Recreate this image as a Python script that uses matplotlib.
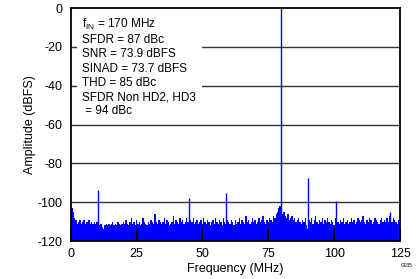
import numpy as np
import matplotlib
matplotlib.use('Agg')
import matplotlib.pyplot as plt

plt.rcParams['font.family'] = ['Liberation Sans', 'DejaVu Sans']
plt.rcParams['axes.unicode_minus'] = False

# ---- data ----
# noise floor, 0.5 MHz spacing, 0..125 MHz (dBFS)
noise_floor = [
    -100, -103, -105, -108, -109, -111, -110, -109, -111, -110,
    -109, -111, -110, -110, -109, -111, -110, -111, -110, -111,
    -110, -111, -112, -111, -113, -114, -112, -111, -112, -111,
    -112, -111, -110, -112, -111, -112, -110, -111, -112, -111,
    -110, -111, -109, -111, -112, -110, -108, -111, -110, -112,
    -109, -111, -110, -112, -111, -108, -110, -111, -112, -110,
    -111, -109, -110, -111, -106, -110, -111, -109, -110, -111,
    -110, -108, -111, -109, -110, -112, -111, -110, -107, -111,
    -109, -110, -111, -108, -110, -109, -111, -110, -108, -110,
    -111, -109, -110, -108, -111, -110, -109, -111, -110, -109,
    -111, -108, -110, -111, -109, -110, -112, -110, -109, -111,
    -108, -110, -111, -109, -110, -112, -108, -110, -111, -109,
    -110, -111, -109, -110, -112, -109, -111, -110, -108, -111,
    -109, -110, -111, -107, -110, -109, -111, -110, -108, -110,
    -109, -111, -110, -108, -110, -109, -107, -110, -111, -109,
    -110, -108, -109, -110, -107, -108, -106, -105, -103, -102,
    -104, -106, -105, -107, -108, -106, -109, -108, -107, -109,
    -108, -110, -109, -108, -110, -111, -109, -110, -108, -112,
    -114, -109, -110, -108, -111, -109, -107, -110, -111, -109,
    -110, -108, -111, -109, -110, -108, -110, -111, -109, -110,
    -112, -108, -109, -110, -111, -109, -110, -108, -111, -110,
    -109, -111, -110, -108, -110, -109, -111, -110, -108, -109,
    -110, -109, -107, -110, -111, -109, -110, -108, -109, -111,
    -110, -108, -109, -110, -111, -109, -108, -110, -109, -110,
    -108, -110, -107, -109, -110, -108, -109, -110, -111, -109,
    -110,
]
freq = np.arange(len(noise_floor)) * 0.5

spike_freq = [10.5, 45.0, 59.1, 80.0, 90.2, 100.8, 121.3]
spike_level = [-93.7, -97.9, -95.1, 0.0, -87.5, -99.3, -105.3]

x_ticks = [0, 25, 50, 75, 100, 125]
y_ticks = [-120, -100, -80, -60, -40, -20, 0]

info_lines = [
    r'$\mathregular{f_{IN}}$ = 170 MHz',
    'SFDR = 87 dBc',
    'SNR = 73.9 dBFS',
    'SINAD = 73.7 dBFS',
    'THD = 85 dBc',
    'SFDR Non HD2, HD3',
    ' = 94 dBc',
]

fig = plt.figure(figsize=(4.19, 2.79), dpi=100)
ax = fig.add_axes([0.1687, 0.1362, 0.786, 0.835])

blue = '#0000FF'
for y in y_ticks[1:-1]:
    ax.axhline(y, color='#333333', lw=1.0, zorder=0.5)

ax.fill_between(freq, noise_floor, -120, step='mid', color=blue, lw=0, zorder=1)
ax.vlines(spike_freq, -120, spike_level, color=blue, lw=1.0, zorder=1.2)

ax.set_xlim(0, 125)
ax.set_ylim(-120, 0)
ax.set_xticks(x_ticks)
ax.set_yticks(y_ticks)
ax.tick_params(axis='x', direction='in', length=9, width=1.5, color='black',
               labelsize=9, pad=5)
ax.tick_params(axis='y', length=0, labelsize=9, pad=6)
for s in ax.spines.values():
    s.set_linewidth(1.3)
    s.set_zorder(3)

ax.set_xlabel('Frequency (MHz)', fontsize=9, labelpad=2)
ax.set_ylabel('Amplitude (dBFS)', fontsize=9, labelpad=1)

ax.text(0.035, 0.962, '\n'.join(info_lines), transform=ax.transAxes,
        fontsize=8.5, va='top', ha='left', linespacing=1.25, zorder=2,
        bbox=dict(facecolor='white', edgecolor='none', pad=4))

fig.text(0.985, 0.05, 'G035', fontsize=3.5, ha='right', va='center')

fig.savefig('out.png', dpi=100)
